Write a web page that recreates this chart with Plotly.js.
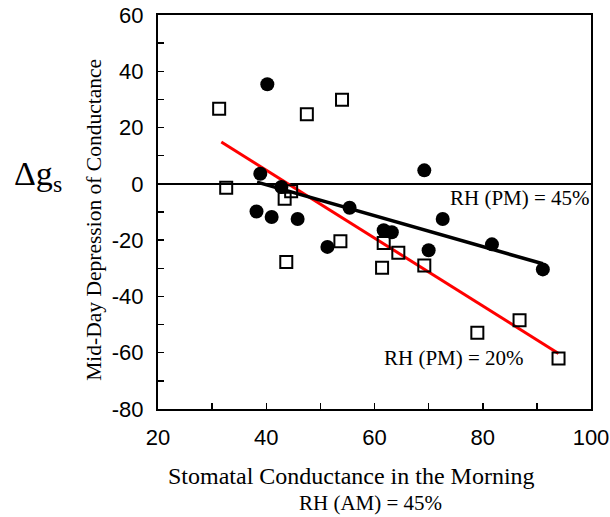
<!DOCTYPE html>
<html>
<head>
<meta charset="utf-8">
<script src="https://cdn.plot.ly/plotly-3.0.1.min.js"></script>
<style>html,body{margin:0;padding:0;background:#fff;}#chart{width:610px;height:517px;}</style>
</head>
<body>
<div id="chart"></div>
<script>
// RH (PM) = 45% : filled circles
var circX = [40.2, 38.9, 69.2, 42.8, 38.2, 41.0, 45.8, 55.4, 51.3, 61.7, 63.2, 72.6, 70.0, 81.7, 91.1];
var circY = [35.4, 3.6, 4.8, -1.1, -9.8, -11.8, -12.5, -8.5, -22.4, -16.5, -17.2, -12.5, -23.6, -21.5, -30.4];
// RH (PM) = 20% : open squares
var sqX = [31.3, 47.5, 54.0, 32.6, 44.6, 43.4, 43.7, 53.7, 61.7, 64.4, 61.4, 69.2, 79.0, 86.8, 94.0];
var sqY = [26.7, 24.7, 29.9, -1.4, -2.6, -5.3, -27.8, -20.4, -21.0, -24.5, -29.8, -29.0, -52.9, -48.5, -62.1];
// fitted lines (endpoints)
var fit45X = [38.3, 91.1];
var fit45Y = [0.6, -28.4];
var fit20X = [31.7, 94.0];
var fit20Y = [14.9, -60.3];
var xTicks = [20, 40, 60, 80, 100];
var xTickText = ['20', '40', '60', '80', '100'];
var yTicks = [-80, -60, -40, -20, 0, 20, 40, 60];
var yTickText = ['-80', '-60', '-40', '-20', '0', '20', '40', '60'];

var traces = [
  {x: fit20X, y: fit20Y, mode: 'lines', line: {color: '#ff0000', width: 3}, hoverinfo: 'skip'},
  {x: fit45X, y: fit45Y, mode: 'lines', line: {color: '#000000', width: 3.5}, hoverinfo: 'skip'},
  {x: sqX, y: sqY, mode: 'markers', marker: {symbol: 'square-open', size: 12, color: '#000', line: {width: 2, color: '#000'}}},
  {x: circX, y: circY, mode: 'markers', marker: {symbol: 'circle', size: 14, color: '#000'}}
];

var serif = 'Liberation Serif, Times New Roman, serif';
var sans = 'Liberation Sans, Arial, sans-serif';

var layout = {
  width: 610, height: 517,
  margin: {l: 158, r: 19, t: 15, b: 108},
  showlegend: false,
  paper_bgcolor: '#fff', plot_bgcolor: '#fff',
  xaxis: {
    range: [20, 100], tickvals: xTicks, ticktext: xTickText, ticks: 'inside', ticklen: 6, tickwidth: 1.5, tickcolor: '#000',
    minor: {dtick: 10, ticks: 'inside', ticklen: 6, tickwidth: 1.5, tickcolor: '#000'},
    showline: true, mirror: true, linecolor: '#000', linewidth: 2,
    showgrid: false, zeroline: false,
    tickfont: {family: sans, size: 22, color: '#000'}, ticklabelstandoff: 8
  },
  yaxis: {
    range: [-80, 60], tickvals: yTicks, ticktext: yTickText, ticks: 'inside', ticklen: 6, tickwidth: 1.5, tickcolor: '#000',
    minor: {dtick: 10, ticks: 'inside', ticklen: 6, tickwidth: 1.5, tickcolor: '#000'},
    showline: true, mirror: true, linecolor: '#000', linewidth: 2,
    showgrid: false, zeroline: true, zerolinecolor: '#000', zerolinewidth: 1.5,
    tickfont: {family: sans, size: 22, color: '#000'}, ticklabelstandoff: 8
  },
  annotations: [
    {xref: 'paper', yref: 'paper', x: 0.448, y: -0.170, text: 'Stomatal Conductance in the Morning', showarrow: false,
     font: {family: serif, size: 24, color: '#000'}, xanchor: 'center', yanchor: 'middle'},
    {xref: 'paper', yref: 'paper', x: 0.491, y: -0.2386, text: 'RH (AM) = 45%', showarrow: false,
     font: {family: serif, size: 21, color: '#000'}, xanchor: 'center', yanchor: 'middle'},
    {xref: 'paper', yref: 'paper', x: -0.148, y: 0.48, text: 'Mid-Day Depression of Conductance', showarrow: false, textangle: -90,
     font: {family: serif, size: 21.5, color: '#000'}, xanchor: 'center', yanchor: 'middle'},
    {xref: 'paper', yref: 'paper', x: -0.277, y: 0.591, text: 'Δg<sub>s</sub>', showarrow: false,
     font: {family: serif, size: 34, color: '#000'}, xanchor: 'center', yanchor: 'middle'},
    {xref: 'x', yref: 'y', x: 100, y: -5, text: 'RH (PM) = 45%', showarrow: false,
     font: {family: serif, size: 21, color: '#000'}, xanchor: 'right', yanchor: 'middle', xshift: 1},
    {xref: 'x', yref: 'y', x: 88.0, y: -61.9, text: 'RH (PM) = 20%', showarrow: false,
     font: {family: serif, size: 21, color: '#000'}, xanchor: 'right', yanchor: 'middle'}
  ]
};

Plotly.newPlot('chart', traces, layout, {displayModeBar: false, staticPlot: true});
</script>
</body>
</html>
